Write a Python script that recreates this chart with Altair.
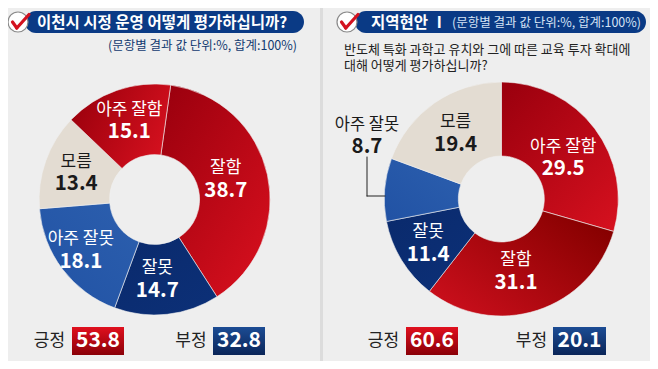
import altair as alt
import pandas as pd

OFF = 8
FONT = "Noto Sans CJK KR"

left_categories = ["잘함", "잘못", "아주 잘못", "모름", "아주 잘함"]
left_values = [38.7, 14.7, 18.1, 13.4, 15.1]
right_categories = ["아주 잘함", "잘함", "잘못", "아주 잘못", "모름"]
right_values = [29.5, 31.1, 11.4, 8.7, 19.4]
left_summary = [("긍정", 53.8), ("부정", 32.8)]
right_summary = [("긍정", 60.6), ("부정", 20.1)]

WHITE, DARK = "#ffffff", "#1a1a1a"


def grad(c1, c2, x1=0.0, y1=0.0, x2=1.0, y2=1.0):
    return alt.LinearGradient(
        gradient="linear", x1=x1, y1=y1, x2=x2, y2=y2,
        stops=[alt.GradientStop(color=c1, offset=0), alt.GradientStop(color=c2, offset=1)],
    )


def vx(v):
    return alt.value(v - OFF)


def text(s, x, y, size, color, weight="normal", align="center", **kw):
    return (
        alt.Chart(pd.DataFrame({"t": [s]}))
        .mark_text(font=FONT, fontSize=size, color=color, fontWeight=weight, align=align, baseline="middle", **kw)
        .encode(text="t:N", x=vx(x), y=vx(y))
    )


def box(x1, x2, y1, y2, fill, **kw):
    return (
        alt.Chart(pd.DataFrame({"a": [0]}))
        .mark_rect(fill=fill, **kw)
        .encode(x=vx(x1), x2=vx(x2), y=vx(y1), y2=vx(y2))
    )


def seg(x1, y1, x2, y2, color, width):
    return (
        alt.Chart(pd.DataFrame({"a": [0]}))
        .mark_rule(color=color, strokeWidth=width, strokeCap="round")
        .encode(x=vx(x1), x2=vx(x2), y=vx(y1), y2=vx(y2))
    )


THETA_SCALE = alt.Scale(domain=[0, 1.1], range=[0, 1.1 * 6.283185307])


def donut(cats, vals, cx, cy, r_out, r_in, start_deg, fills, nudges, outside=()):
    total = sum(vals)
    layers, labels = [], []
    run = start_deg / 360
    for c, v, f, (ndx, ndy) in zip(cats, vals, fills, nudges):
        s, e = run, run + v / total
        run = e
        df = pd.DataFrame({"cat": [c], "val": [v], "s": [s], "e": [e], "m": [(s + e) / 2], "lab": [f"{v:.1f}"]})
        layers.append(
            alt.Chart(df)
            .mark_arc(fill=f, innerRadius=r_in, outerRadius=r_out, stroke="#f0f0f0", strokeWidth=0.6)
            .encode(
                theta=alt.Theta("s:Q", scale=THETA_SCALE),
                theta2="e:Q",
                x=vx(cx),
                y=vx(cy),
                tooltip=["cat:N", "val:Q"],
            )
        )
        if c in outside:
            continue
        col = DARK if c == "모름" else WHITE
        for field, size, weight, dy in (("cat", 17, "normal", -11), ("lab", 20.5, "bold", 11.5)):
            labels.append(
                alt.Chart(df)
                .mark_text(font=FONT, fontSize=size, fontWeight=weight, color=col, baseline="middle",
                           radius=80, dx=ndx, dy=ndy + dy)
                .encode(text=f"{field}:N", theta=alt.Theta("m:Q", scale=THETA_SCALE), x=vx(cx), y=vx(cy))
            )
    return layers + labels


def check(cx):
    return [
        alt.Chart(pd.DataFrame({"a": [0]})).mark_point(
            filled=True, fill="#ffffff", stroke="#8a8a8a", strokeWidth=1.2, size=400, opacity=1
        ).encode(x=vx(cx), y=vx(22)),
        seg(cx - 5.5, 22, cx - 1.2, 28, "#d3121f", 3.2),
        seg(cx - 1.2, 28, cx + 11, 14.5, "#d3121f", 3.2),
    ]


BLUE_D = grad("#0a2a6c", "#0c3078")
BLUE_L = grad("#2c5fae", "#2152a4", 1, 0, 0, 1)
BEIGE = "#e3dcd2"

left_fills = [grad("#9c000e", "#d8101e", 0.1, 0, 0.9, 1), BLUE_D, BLUE_L, BEIGE, grad("#9a000c", "#d4101e", 0, 0.2, 1, 0.6)]
right_fills = [grad("#9c000e", "#d4101e", 0.1, 0, 0.9, 1), grad("#d0101e", "#860000", 0, 1, 1, 0.2), BLUE_D, BLUE_L, BEIGE]

left_nudge = [(-7, -3), (-6, 0), (-10, 2.5), (-3, 0), (1, -3)]
right_nudge = [(-2, 7), (-10, -4), (-5, 2.5), (0, 0), (0, 0)]

layers = []
layers.append(box(320, 323, 8, 369, "#dcdcdc"))

# titles
layers += [box(25, 304, 11, 33, "#0a3a85", cornerRadius=11), box(355, 646, 11, 33, "#0a3a85", cornerRadius=11)]
layers += check(18) + check(347)
layers.append(text("이천시 시정 운영 어떻게 평가하십니까?", 37, 22.5, 15.5, "#ffffff", "bold", "left"))
layers.append(text("(문항별 결과 값 단위:%, 합계:100%)", 297, 46, 12.5, "#123a70", "normal", "right"))
layers.append(text("지역현안 Ⅰ", 371, 22.5, 15.5, "#ffffff", "bold", "left"))
layers.append(text("(문항별 결과 값 단위:%, 합계:100%)", 641, 22.5, 12.5, "#d5e3f5", "normal", "right"))
layers.append(text("반도체 특화 과학고 유치와 그에 따른 교육 투자 확대에", 344, 50, 13, "#222222", "normal", "left"))
layers.append(text("대해 어떻게 평가하십니까?", 344, 66, 13, "#222222", "normal", "left"))

# donuts
layers += donut(left_categories, left_values, 154.6, 199.5, 115.5, 45, 8, left_fills, left_nudge)
layers += donut(right_categories, right_values, 501.3, 199, 117, 43, 0, right_fills, right_nudge, outside=("아주 잘못",))

# outside label
layers.append(text("아주 잘못", 367, 125, 16.5, DARK))
layers.append(text("8.7", 367, 147, 20.5, DARK, "bold"))
layers.append(seg(367, 157, 367, 196, "#222222", 1))
layers.append(seg(367, 196, 385, 196, "#222222", 1))

# summary boxes
RED_BOX = grad("#e0101e", "#8a0008", 0, 0, 0, 1)
BLUE_BOX = grad("#1c4c94", "#0a2558", 0, 0, 0, 1)
for (pair, xs) in ((left_summary, [(49.5, 72, 124), (191, 213, 265)]), (right_summary, [(383.5, 406, 458), (531.5, 553, 606)])):
    for (lab, val), (tx, x1, x2) in zip(pair, xs):
        layers.append(text(lab, tx, 341, 17, "#222222"))
        layers.append(box(x1, x2, 327, 355, RED_BOX if lab == "긍정" else BLUE_BOX))
        layers.append(text(f"{val:.1f}", (x1 + x2) / 2, 341, 21, "#ffffff", "bold"))

chart = (
    alt.layer(*layers)
    .properties(width=642, height=353, background="#eeeeee", padding=0, autosize=alt.AutoSizeParams(type="none"))
    .configure_view(stroke=None)
)
chart.save("out.html", embed_options={"renderer": "svg", "actions": False})
